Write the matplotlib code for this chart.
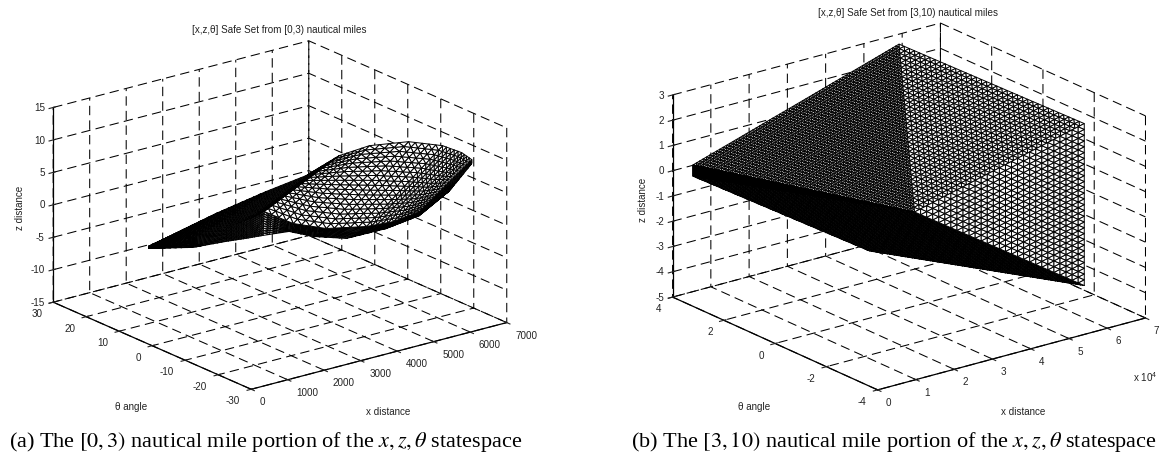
import matplotlib
matplotlib.use('Agg')
import matplotlib.pyplot as plt
import numpy as np
from mpl_toolkits.mplot3d.art3d import Poly3DCollection

plt.rcParams['font.family'] = ['Liberation Sans', 'DejaVu Sans']
plt.rcParams['mathtext.fontset'] = 'stix'
plt.rcParams['axes.unicode_minus'] = False
plt.rcParams['grid.linestyle'] = '--'
plt.rcParams['grid.color'] = 'black'
plt.rcParams['grid.linewidth'] = 0.75
plt.rcParams['lines.dashed_pattern'] = [9, 5]
plt.rcParams['axes.linewidth'] = 0.9

# --- panel (a) axes
a_x_ticks = [0, 1000, 2000, 3000, 4000, 5000, 6000, 7000]
a_theta_ticks = [-30, -20, -10, 0, 10, 20, 30]
a_z_ticks = [-15, -10, -5, 0, 5, 10, 15]

# panel (a) surface, three edge curves: x, theta, z
a_top_x = [0, 1359, 2374, 3185, 3855, 4464, 5255, 5945, 6331, 6534, 6534]
a_top_theta = [1.05, -4.28, -8.25, -11.43, -14.05, -16.44, -19.54, -22.24, -23.75, -24.55, -24.55]
a_top_z = [0.08, 4.34, 7.12, 9.10, 11.78, 12.95, 13.1, 12.07, 10.77, 9.57, 8.96]

a_mid_x = [0, 852, 1562, 1968, 2333, 2922, 3591, 4403, 4951, 5478, 6087]
a_mid_theta = [1.05, -2.29, -5.07, -6.66, -8.09, -10.4, -13.02, -16.2, -18.35, -20.41, -22.8]
a_mid_z = [-0.07, 0.80, 2.07, 2.91, 4.07, 1.87, 0.70, 0.53, 0.97, 2.2, 5.07]

a_low_x = [0, 893, 1562, 1968, 2313, 2841, 3328, 3997, 4809, 5478, 6087]
a_low_theta = [1.05, -2.45, -5.07, -6.66, -8.01, -10.08, -11.99, -14.61, -17.79, -20.41, -22.8]
a_low_z = [-0.23, -0.62, -0.09, 0.14, 0.39, 0.69, -0.37, -1.07, -0.02, 1.58, 5.07]

# mesh rows per segment of the curves
a_rows = [8, 8, 8, 8, 4, 4, 5, 5, 4, 4]

# --- panel (b) axes
b_x_ticks = [0, 10000, 20000, 30000, 40000, 50000, 60000, 70000]
b_x_labels = ['0', '1', '2', '3', '4', '5', '6', '7']
b_theta_ticks = [-4, -2, 0, 2, 4]
b_z_ticks = [-5, -4, -3, -2, -1, 0, 1, 2, 3]

# panel (b) corners of the wedge (x, theta, z)
b_tip_top = [0, 3.2, 0.6]
b_tip_low = [0, 3.2, 0.15]
b_back = [53830, 3.2, 3.19]
b_right = [59360, -3.2, 2.76]
b_foot = [59360, -3.2, -3.65]
b_crease = [35000, -0.216, -1.12]
b_under = [35000, 1.54, -3.47]


def lattice(p0, p1, p2, n):
    p0, p1, p2 = np.array(p0, float), np.array(p1, float), np.array(p2, float)
    tris = []
    pt = lambda i, j: p0 + (p1 - p0) * i / n + (p2 - p0) * j / n
    for i in range(n):
        for j in range(n - i):
            tris.append([pt(i, j), pt(i + 1, j), pt(i, j + 1)])
            if i + j < n - 1:
                tris.append([pt(i + 1, j), pt(i + 1, j + 1), pt(i, j + 1)])
    return tris


def strip(curve_a, curve_b, rows, cols):
    # triangles between two edge curves
    params = [0.0]
    for k, r in enumerate(rows):
        params += [k + (q + 1) / r for q in range(r)]
    base = np.arange(len(rows) + 1)
    a = np.column_stack([np.interp(params, base, c) for c in curve_a])
    b = np.column_stack([np.interp(params, base, c) for c in curve_b])
    tris = []
    for i in range(len(params) - 1):
        for j in range(cols):
            s0, s1 = j / cols, (j + 1) / cols
            p00 = a[i] + (b[i] - a[i]) * s0
            p01 = a[i] + (b[i] - a[i]) * s1
            p10 = a[i + 1] + (b[i + 1] - a[i + 1]) * s0
            p11 = a[i + 1] + (b[i + 1] - a[i + 1]) * s1
            tris.append([p00, p10, p11])
            tris.append([p00, p11, p01])
    return tris


def setup(rect, aspect, elev, xt, xl, tt, zt, xlim, tlim, zlim):
    ax = fig.add_axes(rect, projection='3d', proj_type='ortho')
    ax.set_box_aspect(aspect, zoom=1.3)
    ax.view_init(elev=elev, azim=-127.6)
    ax.set_xticks(xt, xl, ha='left', va='center')
    ax.set_yticks(tt, [str(v) for v in tt], ha='right', va='center')
    ax.set_zticks(zt, [str(v) for v in zt], ha='right', va='center')
    ax.set_xlim(*xlim, view_margin=0)
    ax.set_ylim(*tlim, view_margin=0)
    ax.set_zlim(*zlim, view_margin=0)
    ax.patch.set_alpha(0)
    for axis in (ax.xaxis, ax.yaxis, ax.zaxis):
        axis.set_pane_color((1, 1, 1, 0))
        axis.pane.set_edgecolor('none')
        axis.line.set_color('black')
        axis.line.set_linewidth(0.9)
    ax.tick_params(labelsize=7.1, colors='#222222', pad=-2, length=2, width=0.6)
    ax.tick_params(axis='z', pad=-5.4)
    return ax


def add_mesh(ax, tris, lw=0.7):
    mesh = Poly3DCollection(np.array(tris), facecolors='white', edgecolors='black', linewidths=lw)
    ax.add_collection3d(mesh)
    mesh.set_clip_on(False)


fig = plt.figure(figsize=(11.64, 4.56), dpi=100)

# panel (a)
ax1 = setup([87.4 / 1164, 47.4 / 456, 375 / 1164, 375 / 456], (322.7, 324.6, 207), 19.8,
            a_x_ticks, [str(v) for v in a_x_ticks], a_theta_ticks, a_z_ticks,
            (0, 7000), (-30, 30), (-15, 15))
top = (a_top_x, a_top_theta, a_top_z)
mid = (a_mid_x, a_mid_theta, a_mid_z)
low = (a_low_x, a_low_theta, a_low_z)
add_mesh(ax1, strip(top, mid, a_rows, 18))
add_mesh(ax1, strip(mid, low, a_rows, 10))

# panel (b)
ax2 = setup([708.4 / 1164, 47.9 / 456, 390.7 / 1164, 390.7 / 456], (338, 336, 215.6), 20.4,
            b_x_ticks, b_x_labels, b_theta_ticks, b_z_ticks,
            (0, 70000), (-4, 4), (-5, 3))
add_mesh(ax2, lattice(b_tip_top, b_back, b_crease, 62))
add_mesh(ax2, lattice(b_right, b_back, b_crease, 36))
add_mesh(ax2, lattice(b_right, b_foot, b_crease, 28))
add_mesh(ax2, lattice(b_tip_top, b_tip_low, b_crease, 40))
add_mesh(ax2, lattice(b_tip_low, b_crease, b_under, 60))
add_mesh(ax2, lattice(b_crease, b_foot, b_under, 60))


def ftext(x, y, s, **kw):
    fig.text(x / 1164, 1 - y / 456, s, ha='center', va='center', **kw)


ftext(279, 30, '[x,z,θ] Safe Set from [0,3) nautical miles', fontsize=7.1, color='#222222')
ftext(908, 12.5, '[x,z,θ] Safe Set from [3,10) nautical miles', fontsize=7.1, color='#222222')
ftext(20, 208, 'z distance', fontsize=7.1, rotation=90, color='#222222')
ftext(643, 200, 'z distance', fontsize=7.1, rotation=90, color='#222222')
ftext(131, 407, 'θ angle', fontsize=7.1, color='#222222')
ftext(754, 407, 'θ angle', fontsize=7.1, color='#222222')
ftext(388, 412, 'x distance', fontsize=7.1, color='#222222')
ftext(1023, 412, 'x distance', fontsize=7.1, color='#222222')
ftext(1145, 377, r'x 10$^{\mathregular{4}}$', fontsize=7.1, color='#222222')

cap = dict(fontsize=16, family='Liberation Serif', color='black')
ftext(266, 442, r'(a) The $[0,3)$ nautical mile portion of the $x,z,\theta$ statespace', **cap)
ftext(894, 442, r'(b) The $[3,10)$ nautical mile portion of the $x,z,\theta$ statespace', **cap)

fig.savefig('out.png', dpi=100)
